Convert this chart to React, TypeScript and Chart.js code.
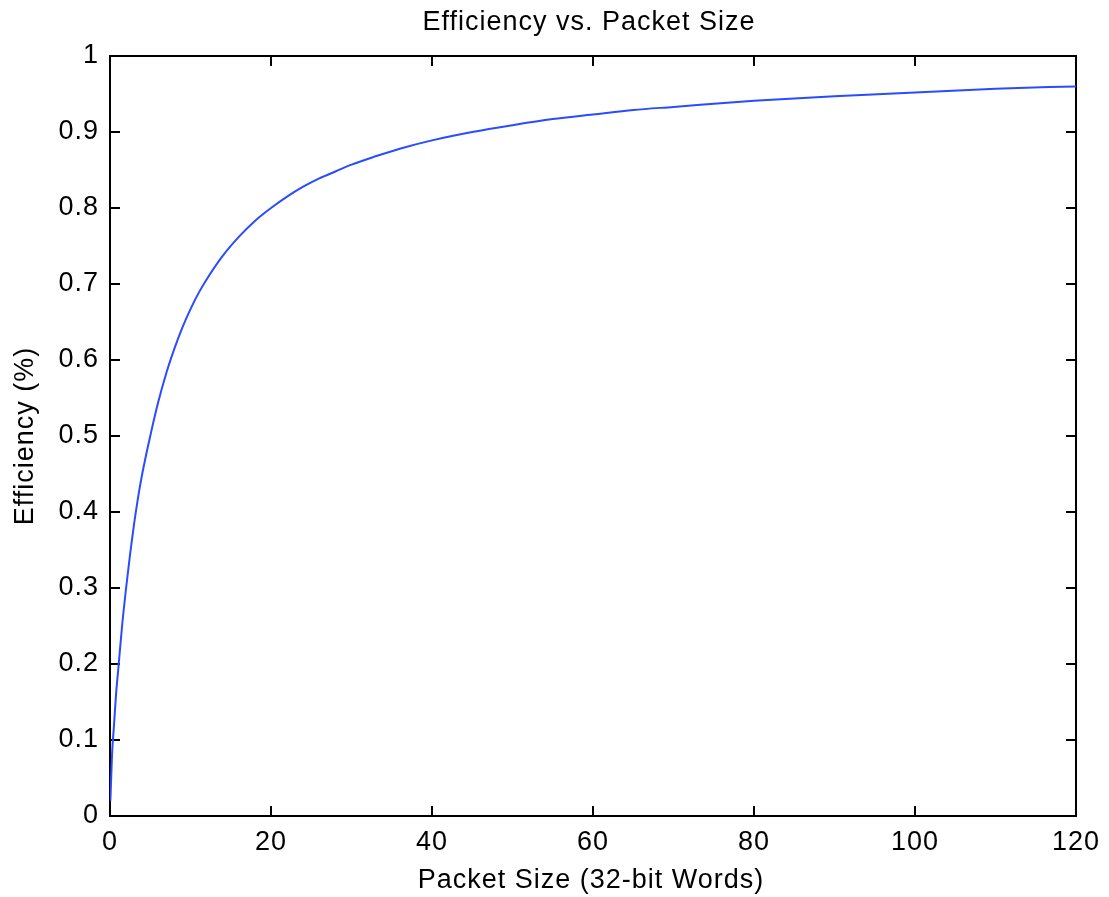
import React, { useEffect, useRef } from "react";
import { Chart, registerables } from "chart.js";

Chart.register(...registerables);

const packetSize = [0.05, 0.25, 0.5, 0.75, 1, 1.5, 2, 2.5, 3, 3.5, 4, 5, 6, 7, 8, 9, 10, 11, 12, 14, 16, 18, 20, 22, 24, 26, 28, 30, 33, 36, 40, 45, 50, 55, 60, 65, 70, 80, 90, 100, 110, 120];
const efficiency = [0.02, 0.08, 0.12, 0.16, 0.19, 0.25, 0.3, 0.345, 0.385, 0.42, 0.45, 0.5, 0.545, 0.583, 0.615, 0.643, 0.667, 0.688, 0.706, 0.737, 0.762, 0.783, 0.8, 0.815, 0.828, 0.839, 0.848, 0.857, 0.868, 0.878, 0.889, 0.9, 0.909, 0.917, 0.923, 0.929, 0.933, 0.941, 0.947, 0.952, 0.957, 0.96];

const titleText = "Efficiency vs. Packet Size";
const xTitleText = "Packet Size (32-bit Words)";
const yTitleText = "Efficiency (%)";

const FONT_FAMILY = "'Liberation Sans', Arial, sans-serif";
const FONT_SIZE = 27;

const boxPlugin = {
  id: "matlabBox",
  beforeDraw(chart: any) {
    try {
      (chart.ctx as any).letterSpacing = "1px";
    } catch (e) {}
  },
  beforeDatasetsDraw(chart: any) {
    const { ctx, chartArea, scales } = chart;
    const { left, right, top, bottom } = chartArea;
    const x = scales.x;
    const y = scales.y;
    const tl = 10;
    ctx.save();
    ctx.strokeStyle = "#000";
    ctx.lineWidth = 2;
    ctx.strokeRect(left, top, right - left, bottom - top);
    ctx.beginPath();
    x.ticks.forEach((t: any) => {
      const px = Math.round(x.getPixelForValue(t.value));
      ctx.moveTo(px, bottom);
      ctx.lineTo(px, bottom - tl);
      ctx.moveTo(px, top);
      ctx.lineTo(px, top + tl);
    });
    y.ticks.forEach((t: any) => {
      const py = Math.round(y.getPixelForValue(t.value));
      ctx.moveTo(left, py);
      ctx.lineTo(left + tl, py);
      ctx.moveTo(right, py);
      ctx.lineTo(right - tl, py);
    });
    ctx.stroke();
    ctx.restore();
  },
  afterDraw(chart: any) {
    const { ctx, chartArea } = chart;
    const cx = (chartArea.left + chartArea.right) / 2;
    const cy = (chartArea.top + chartArea.bottom) / 2;
    ctx.save();
    ctx.fillStyle = "#000";
    ctx.font = `${FONT_SIZE}px ${FONT_FAMILY}`;
    try {
      (ctx as any).letterSpacing = "1px";
    } catch (e) {}
    ctx.textAlign = "center";
    ctx.textBaseline = "alphabetic";
    ctx.fillText(titleText, cx - 4, 30);
    ctx.fillText(xTitleText, cx - 2, 888);
    ctx.translate(33, cy);
    ctx.rotate(-Math.PI / 2);
    ctx.fillText(yTitleText, 0, 0);
    ctx.restore();
  },
};

export default function App() {
  const canvasRef = useRef<HTMLCanvasElement | null>(null);

  useEffect(() => {
    if (!canvasRef.current) return;
    const data = packetSize.map((v, i) => ({ x: v, y: efficiency[i] }));
    const chart = new Chart(canvasRef.current, {
      type: "line",
      data: {
        datasets: [
          {
            data,
            borderColor: "#2a4bff",
            borderWidth: 2,
            pointRadius: 0,
            fill: false,
            cubicInterpolationMode: "monotone",
          },
        ],
      },
      options: {
        animation: false,
        responsive: false,
        maintainAspectRatio: false,
        layout: { padding: { top: 56, right: 33, left: 0, bottom: 0 } },
        plugins: {
          legend: { display: false },
          tooltip: { enabled: false },
          title: { display: false },
        },
        scales: {
          x: {
            type: "linear",
            min: 0,
            max: 120,
            ticks: {
              stepSize: 20,
              padding: 10,
              color: "#000",
              font: { family: FONT_FAMILY, size: FONT_SIZE },
              maxRotation: 0,
            },
            grid: { display: false, drawTicks: false },
            border: { display: false },
            afterFit: (s: any) => {
              s.height = 81;
            },
          },
          y: {
            type: "linear",
            min: 0,
            max: 1,
            ticks: {
              stepSize: 0.1,
              padding: 11,
              color: "#000",
              font: { family: FONT_FAMILY, size: FONT_SIZE },
              callback: (v: any) => String(Math.round(Number(v) * 10) / 10),
            },
            grid: { display: false, drawTicks: false },
            border: { display: false },
            afterFit: (s: any) => {
              s.width = 110;
            },
          },
        },
      },
      plugins: [boxPlugin],
    });
    return () => chart.destroy();
  }, []);

  return (
    <div style={{ position: "fixed", left: 0, top: 0, width: 1109, height: 897, background: "#fff" }}>
      <canvas ref={canvasRef} width={1109} height={897} style={{ width: 1109, height: 897, display: "block" }} />
    </div>
  );
}
